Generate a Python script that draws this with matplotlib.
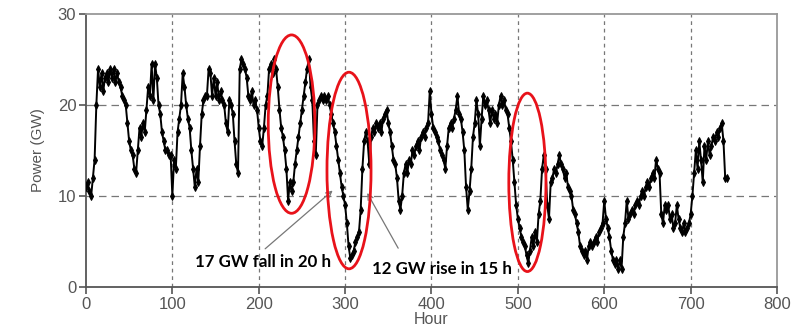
import numpy as np
import matplotlib.pyplot as plt
from matplotlib.patches import Ellipse

plt.rcParams['font.family'] = ['Liberation Sans', 'DejaVu Sans']

# hourly wind power, read every 2 h from the picture
hours = np.arange(0, 744, 2)
power = [
    11, 11.5, 10.5, 10, 12, 14, 20, 24, 22, 23.5,
    21.5, 23, 23.5, 22.5, 24, 23, 24, 22.5, 23.5, 22.5,
    22, 21, 20.5, 20, 18, 16, 15, 14.5, 13, 12.5,
    15, 17.5, 16.5, 18, 17, 19.5, 22, 21, 24.5, 20.5,
    24.5, 23, 20, 19, 17, 16, 15, 15, 14.5, 14.5,
    10, 14, 13, 17, 18.5, 20, 23.5, 22, 20, 18.5,
    17.5, 15, 13, 11, 13, 11.5, 15.5, 19, 20.5, 21,
    21, 24, 23.5, 21, 23, 21, 22.5, 20.5, 21.5, 20.5,
    20, 18, 17, 20.5, 20, 19, 16, 13.5, 12.5, 24,
    25, 24.5, 24, 23, 21, 20.5, 21.5, 20, 20.5, 19.5,
    17.5, 16, 15.5, 17.5, 20, 21, 24, 24.5, 23.5, 25,
    24, 22, 19.5, 17.5, 16.5, 15, 13, 9.5, 11.5, 10.5,
    11.5, 13.5, 15, 16.5, 18, 19.5, 21, 22.5, 24, 25,
    22, 20.5, 16, 14.5, 20, 20.5, 21, 20.5, 21, 20.5,
    21, 20, 19, 18, 17, 15.5, 14, 12.5, 11, 10,
    9, 7, 4.5, 3.2, 3.5, 4, 5, 5.5, 6, 8.5,
    13, 16, 17, 16, 13.5, 16.5, 17.5, 17, 18, 17.5,
    18, 17, 18.5, 19, 19.5, 18, 17, 15.5, 14, 13.5,
    12, 9.5, 8.5, 10, 12.5, 13.5, 12.5, 14, 13.5, 15,
    14.5, 15.5, 16, 15, 16.5, 17, 16.5, 17.5, 18, 21.5,
    19, 17.5, 17, 16.5, 16, 15, 14.5, 14, 13, 15.5,
    17.5, 18, 17.5, 18.5, 19.5, 21, 19, 18.5, 17, 15,
    11, 8.5, 10.5, 13, 16.5, 18, 20.5, 19, 15.5, 18.5,
    21, 20, 20.5, 19.5, 18, 19.5, 18.5, 19, 18, 20,
    21, 20, 20.5, 19.5, 19, 17.5, 16, 14, 11.5, 9,
    7.5, 6.5, 5.5, 5, 4.5, 3.5, 2.6, 4, 5.5, 4.5,
    6, 5, 8, 9.5, 13, 14.5, 13, 9, 7.5, 11.5,
    12, 13, 12.5, 13.5, 14.5, 13.5, 13, 12, 12.5, 11,
    10.5, 10, 8.5, 8, 7, 6, 4.5, 4, 3.5, 4,
    3, 4.5, 5, 4.5, 5, 5.5, 5, 6, 6.5, 7,
    9.5, 7.5, 6.5, 5.5, 4, 3, 2.5, 3, 2, 3,
    2, 5.5, 7, 9.5, 7.5, 8, 8.5, 8, 9, 9.5,
    9, 10, 10.5, 10, 11, 11.5, 11, 12, 12.5, 12,
    14, 13, 12.5, 8, 7, 9, 8.5, 9, 7.5, 8,
    6.5, 7, 9, 7.5, 6.5, 6, 7, 6, 6.5, 7,
    8, 10, 12.5, 15, 13, 16, 14, 11.5, 15.5, 14,
    16, 14.5, 15.5, 16.5, 16, 17, 16.5, 17.5, 18, 16,
    12, 12,
]

xticks = [0, 100, 200, 300, 400, 500, 600, 700, 800]
yticks = [0, 10, 20, 30]

fig = plt.figure(figsize=(7.99, 3.26), dpi=100)
ax = fig.add_axes([0.1076, 0.1196, 0.8649, 0.8375])

ax.plot(hours, power, color='black', lw=1.4, marker='d', ms=3.8,
        markeredgewidth=0.7, zorder=3)

ax.set_xlim(0, 800)
ax.set_ylim(0, 30)
ax.set_xticks(xticks)
ax.set_yticks(yticks)
ax.tick_params(direction='out', length=5, labelsize=12, colors='#555555',
               width=1.2, pad=2)

for x in xticks[1:-1]:
    ax.axvline(x, color='#777777', lw=0.9, ls=(0, (3, 3)), zorder=1)
for y in [10, 20]:
    ax.axhline(y, color='#777777', lw=0.9, ls=(0, (6, 4)), zorder=1)

for side in ['left', 'bottom']:
    ax.spines[side].set_color('#555555')
    ax.spines[side].set_linewidth(1.3)
for side in ['top', 'right']:
    ax.spines[side].set_color('#999999')
    ax.spines[side].set_linewidth(1.3)

ax.set_xlabel('Hour', fontsize=11.5, color='#555555', labelpad=0)
ax.set_ylabel('Power (GW)', fontsize=11, color='#555555', labelpad=9)

# red ellipses round the steep ramps
for cx, cy, w, h in [(238, 17.9, 54, 19.6), (304.5, 12.8, 51, 21.6), (511, 11.5, 43, 19.6)]:
    ax.add_patch(Ellipse((cx, cy), w, h, fill=False, edgecolor='#e8121a', lw=2, zorder=4))

arrow = dict(arrowstyle='->', color='#777777', lw=0.9)
ax.annotate('', xy=(288, 10.8), xytext=(205, 4.0), arrowprops=arrow)
ax.annotate('', xy=(324, 10.6), xytext=(363, 4.0), arrowprops=arrow)
ax.text(205, 2.7, '17 GW fall in 20 h', ha='center', va='center', fontsize=12.2,
        fontweight='bold', family=['Lato', 'DejaVu Sans'])
ax.text(412, 2.0, '12 GW rise in 15 h', ha='center', va='center', fontsize=12.2,
        fontweight='bold', family=['Lato', 'DejaVu Sans'])

fig.savefig('out.png', dpi=100)
